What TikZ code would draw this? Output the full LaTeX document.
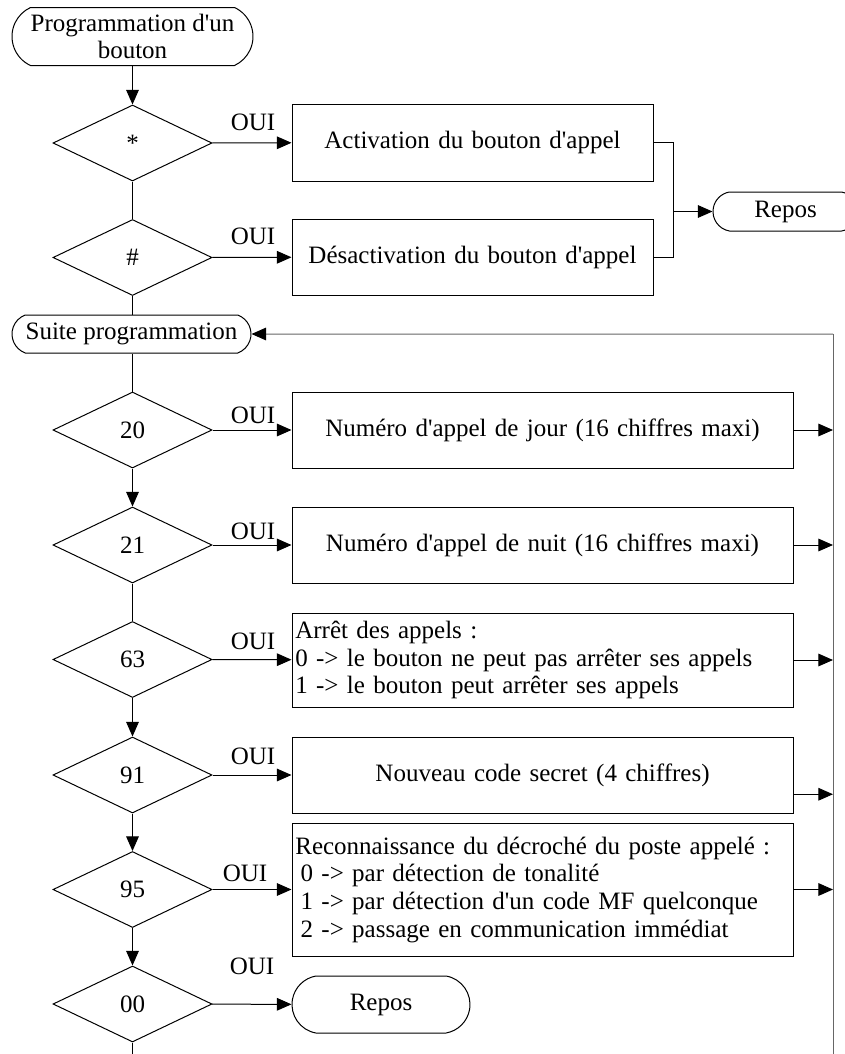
\documentclass[tikz,border=0pt]{standalone}
\usepackage{fontspec}
\setmainfont{Liberation Serif}[Ligatures=TeXOff]
\usetikzlibrary{shapes.geometric,shapes.misc,arrows.meta,calc}
\begin{document}
\begin{tikzpicture}[x=0.75pt,y=-0.75pt,
  line width=0.75pt,
  every node/.style={font=\fontsize{18.75pt}{20.75pt}\selectfont},
  dec/.style={diamond, draw, line width=0.75pt, minimum width=119.25pt, minimum height=57pt, inner sep=0pt},
  term/.style={rounded rectangle, draw, line width=0.75pt, inner sep=0pt, align=center},
  boxc/.style={rectangle, draw, line width=0.75pt, inner xsep=2.5pt, inner ysep=0pt, text width=#1, align=center},
  boxl/.style={rectangle, draw, line width=0.75pt, inner xsep=2.5pt, inner ysep=0pt, text width=#1, align=left},
  arr/.style={-{Triangle[length=11pt,width=9.5pt]}},
  busarr/.style={draw=black!60, -{Triangle[length=11pt,width=9.5pt,color=black]}},
  bus/.style={draw=black!60},
  oui/.style={inner sep=0pt}
]
\fill[white] (0,0) rectangle (844,1054);
\useasboundingbox (0,0) rectangle (844,1054);

% left column
\node[term, rounded rectangle arc length=130, minimum width=180.75pt, minimum height=43.5pt] (start) at (132.5,36.5) {Programmation d'un\\bouton};
\node[dec] (dstar) at (132.5,143) {*};
\node[dec] (dhash) at (132.5,257.5) {\#};
\node[term, rounded rectangle arc length=140, minimum width=179.25pt, minimum height=28.5pt] (suite) at (131.5,334) {Suite programmation};
\node[dec] (d20) at (132.5,430) {20};
\node[dec] (d21) at (132.5,545) {21};
\node[dec] (d63) at (132.5,659.5) {63};
\node[dec] (d91) at (132.5,775) {91};
\node[dec] (d95) at (132.5,889.5) {95};
\node[dec] (d00) at (132.5,1004) {00};

% boxes
\node[boxc=265.75pt, minimum height=57.75pt] (act) at (472.5,142.5) {Activation du bouton d'appel};
\node[boxc=265.75pt, minimum height=57pt] (des) at (472.5,257) {Désactivation du bouton d'appel};
\node[term, rounded rectangle arc length=160, minimum width=108.75pt, minimum height=29.25pt] (rep1) at (785.5,211.5) {Repos};

\node[boxc=370.75pt, minimum height=57pt] (b20) at (542.5,430) {Numéro d'appel de jour (16 chiffres maxi)};
\node[boxc=370.75pt, minimum height=57pt] (b21) at (542.5,545) {Numéro d'appel de nuit (16 chiffres maxi)};
\node[boxl=370.75pt, minimum height=70.5pt] (b63) at (542.5,660) {Arrêt des appels :\\0 -> le bouton ne peut pas arrêter ses appels\\1 -> le bouton peut arrêter ses appels};
\node[boxc=370.75pt, minimum height=57pt] (b91) at (542.5,775) {Nouveau code secret (4 chiffres)};
\node[boxl=370.75pt, minimum height=99.75pt] (b95) at (542.5,889.5) {Reconnaissance du décroché du poste appelé :\\\hspace*{4pt}0 -> par détection de tonalité\\\hspace*{4pt}1 -> par détection d'un code MF quelconque\\\hspace*{4pt}2 -> passage en communication immédiat};
\node[term, rounded rectangle arc length=160, minimum width=133.5pt, minimum height=42.75pt] (rep2) at (381,1004.5) {Repos};

% OUI labels
\node[oui] (o1) at (253,122) {OUI};
\node[oui] (o2) at (253,236) {OUI};
\node[oui] (o3) at (253,415) {OUI};
\node[oui] (o4) at (253,531) {OUI};
\node[oui] (o5) at (253,641) {OUI};
\node[oui] (o6) at (253,756) {OUI};
\node[oui] (o7) at (245,873) {OUI};
\node[oui] (o8) at (252,966) {OUI};

% coordinates
\coordinate (jn) at (673,211.5);
\coordinate (busTop) at (833,334);
\coordinate (busBot) at (833,1054);
\coordinate (endBot) at (132.5,1054);
\coordinate (b91o) at ($(b91.south east)!0.25!(b91.north east)$);

% vertical flow
\draw[arr] (start.south -| dstar.north) -- (dstar.north);
\draw (dstar.south) -- (dhash.north);
\draw (dhash.south) -- (dhash.south |- suite.north);
\draw (d20.north |- suite.south) -- (d20.north);
\draw[arr] (d20.south) -- (d21.north);
\draw (d21.south) -- (d63.north);
\draw[arr] (d63.south) -- (d91.north);
\draw[arr] (d91.south) -- (d95.north);
\draw[arr] (d95.south) -- (d00.north);
\draw (d00.south) -- (endBot);

% OUI branches
\draw[arr] (dstar) -- (act);
\draw[arr] (dhash) -- (des);
\draw[arr] (d20) -- (b20);
\draw[arr] (d21) -- (b21);
\draw[arr] (d63) -- (b63);
\draw[arr] (d91) -- (b91);
\draw[arr] (d95) -- (b95);
\draw[arr] (d00) -- (rep2);

% merge to Repos
\draw (act.east) -| (jn);
\draw (des.east) -| (jn);
\draw[arr] (jn) -- (rep1);

% return bus
\draw[bus] (busBot) -- (busTop);
\draw[busarr] (busTop) -- (suite);
\draw[arr] (b20.east) -- (b20.east -| busTop);
\draw[arr] (b21.east) -- (b21.east -| busTop);
\draw[arr] (b63.east) -- (b63.east -| busTop);
\draw[arr] (b91o) -- (b91o -| busTop);
\draw[arr] (b95.east) -- (b95.east -| busTop);
\end{tikzpicture}
\end{document}
